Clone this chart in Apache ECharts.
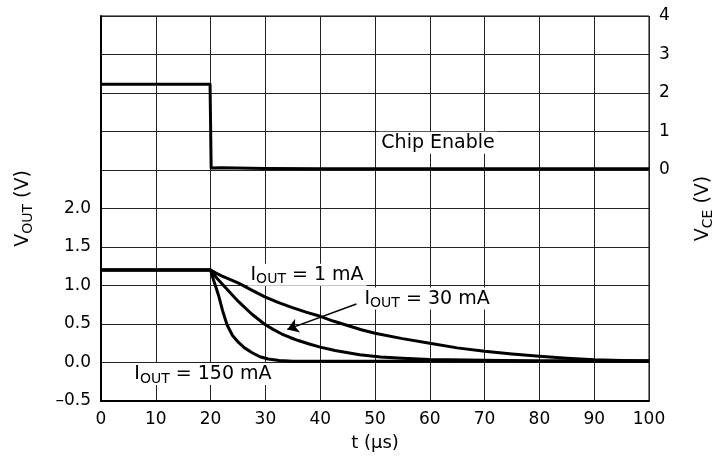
<!DOCTYPE html>
<html>
<head>
    <meta charset="utf-8">
    <title>Chip Enable</title>
    <script src="https://cdn.jsdelivr.net/npm/echarts@6/dist/echarts.min.js"></script>
    <style>
        html, body { margin: 0; padding: 0; background: #fff; }
        #main { width: 718px; height: 462px; }
    </style>
</head>
<body>
<div id="main"></div>
<script type="text/javascript">
    // x ticks, t in us
    var tTicks = [0, 10, 20, 30, 40, 50, 60, 70, 80, 90, 100];
    // left axis labels (V_OUT), only the lower part is labelled
    var voutTicks = [-0.5, 0.0, 0.5, 1.0, 1.5, 2.0];
    // right axis labels (V_CE)
    var vceTicks = [0, 1, 2, 3, 4];

    // chip enable trace (right axis)
    var ceT = [0, 19.9, 20.1, 22, 30, 40, 50, 60, 70, 80, 90, 100];
    var ceV = [2.23, 2.23, 0.05, 0.06, 0.04, 0.03, 0.03, 0.03, 0.03, 0.03, 0.03, 0.03];

    // V_OUT, IOUT = 1 mA
    var t1 = [0, 20, 21, 22, 23.5, 25.1, 27.5, 29.8, 32.3, 34.8, 37.4, 40, 42.5, 45, 47.5, 50, 55, 60, 65, 70, 75, 80, 85, 90, 95, 100];
    var v1 = [1.20, 1.20, 1.16, 1.125, 1.08, 1.03, 0.94, 0.855, 0.78, 0.715, 0.655, 0.60, 0.535, 0.48, 0.425, 0.38, 0.31, 0.25, 0.19, 0.146, 0.11, 0.08, 0.055, 0.035, 0.025, 0.02];
    // V_OUT, IOUT = 30 mA
    var t30 = [0, 20, 21.2, 22.7, 25.1, 27.5, 29.8, 31.4, 33, 34.5, 36, 38, 40, 42.7, 47.2, 51, 55, 60, 70, 80, 90, 100];
    var v30 = [1.20, 1.20, 1.09, 0.975, 0.79, 0.63, 0.50, 0.43, 0.37, 0.325, 0.285, 0.24, 0.20, 0.155, 0.10, 0.07, 0.055, 0.04, 0.03, 0.02, 0.02, 0.02];
    // V_OUT, IOUT = 150 mA
    var t150 = [0, 20, 20.5, 21, 21.5, 22.2, 23, 24, 25.1, 26.2, 27.5, 29, 30.5, 32.5, 35, 50, 70, 100];
    var v150 = [1.20, 1.20, 1.08, 0.97, 0.86, 0.67, 0.49, 0.35, 0.26, 0.19, 0.13, 0.075, 0.045, 0.025, 0.015, 0.015, 0.02, 0.02];

    var FONT = 'DejaVu Sans';
    var richSub = {
        m: { fontFamily: FONT, fontSize: 19, color: '#000', lineHeight: 22 },
        s: { fontFamily: FONT, fontSize: 14, color: '#000', lineHeight: 22, padding: [10, 0, 0, 0] }
    };

    function pairs(xs, ys) {
        var out = [];
        for (var i = 0; i < xs.length; i++) out.push([xs[i], ys[i]]);
        return out;
    }
    function tickText(list, v, digits) {
        for (var i = 0; i < list.length; i++) {
            if (Math.abs(list[i] - v) < 1e-6) {
                var s = list[i].toFixed(digits);
                return s.replace('-', '\u2013');
            }
        }
        return '';
    }
    function note(coord, text) {
        return {
            coord: coord,
            symbolSize: 0,
            label: {
                show: true, position: 'inside', formatter: text, rich: richSub,
                backgroundColor: '#fff', padding: [0, 3, 0, 3]
            }
        };
    }

    var myChart = echarts.init(document.getElementById('main'));
    var lineStyle = { color: '#000', width: 3, join: 'round' };

    var option = {
        animation: false,
        backgroundColor: '#fff',
        grid: {
            left: 101, right: 69, top: 16, bottom: 61,
            outerBoundsMode: 'none', containLabel: false,
            show: true, borderColor: '#000', borderWidth: 1
        },
        xAxis: {
            type: 'value', min: 0, max: 100, interval: 10,
            name: 't (\u03bcs)', nameLocation: 'middle', nameGap: 33,
            nameTextStyle: { fontFamily: FONT, fontSize: 18, color: '#000' },
            axisLine: { show: true, onZero: false, lineStyle: { color: '#000', width: 2 } },
            axisTick: { show: false },
            axisLabel: {
                fontFamily: FONT, fontSize: 17, color: '#000', margin: 10,
                formatter: function (v) { return tickText(tTicks, v, 0); }
            },
            splitLine: { show: true, lineStyle: { color: '#222', width: 1 } }
        },
        yAxis: [{
            type: 'value', min: -0.5, max: 4.5, interval: 0.5,
            name: '{m|V}{s|OUT}{m| (V)}', nameLocation: 'middle', nameRotate: 90, nameGap: 67,
            nameTextStyle: { rich: richSub },
            axisLine: { show: true, onZero: false, lineStyle: { color: '#000', width: 2 } },
            axisTick: { show: false },
            axisLabel: {
                fontFamily: FONT, fontSize: 17, color: '#000', margin: 10,
                formatter: function (v) { return tickText(voutTicks, v, 1); }
            },
            splitLine: { show: true, lineStyle: { color: '#222', width: 1 } }
        }, {
            type: 'value', min: -6, max: 4, interval: 1, position: 'right',
            name: '{m|V}{s|CE}{m| (V)}', nameLocation: 'middle', nameRotate: 90, nameGap: 43,
            nameTextStyle: { rich: richSub },
            axisLine: { show: false, onZero: false },
            axisTick: { show: false },
            axisLabel: {
                fontFamily: FONT, fontSize: 17, color: '#000', margin: 10,
                formatter: function (v) { return tickText(vceTicks, v, 0); }
            },
            splitLine: { show: false }
        }],
        series: [{
            name: 'Chip Enable', type: 'line', yAxisIndex: 1, showSymbol: false, silent: true,
            data: pairs(ceT, ceV), lineStyle: lineStyle,
            markPoint: { silent: true, data: [note([61.5, 0.71], '{m|Chip Enable}')] }
        }, {
            name: '1 mA', type: 'line', yAxisIndex: 0, showSymbol: false, silent: true,
            data: pairs(t1, v1), lineStyle: lineStyle,
            markPoint: { silent: true, data: [note([37.6, 1.14], '{m|I}{s|OUT}{m| = 1 mA}')] }
        }, {
            name: '30 mA', type: 'line', yAxisIndex: 0, showSymbol: false, silent: true,
            data: pairs(t30, v30), lineStyle: lineStyle,
            markPoint: { silent: true, data: [note([59.5, 0.83], '{m|I}{s|OUT}{m| = 30 mA}')] },
            markLine: {
                silent: true, symbolSize: 11,
                label: { show: false },
                lineStyle: { color: '#000', width: 1.5, type: 'solid' },
                data: [[{ coord: [46.6, 0.76], symbol: 'none' }, { coord: [34.0, 0.43], symbol: 'arrow' }]]
            }
        }, {
            name: '150 mA', type: 'line', yAxisIndex: 0, showSymbol: false, silent: true,
            data: pairs(t150, v150), lineStyle: lineStyle,
            markPoint: { silent: true, data: [note([18.6, -0.15], '{m|I}{s|OUT}{m| = 150 mA}')] }
        }]
    };

    myChart.setOption(option);
</script>
</body>
</html>
